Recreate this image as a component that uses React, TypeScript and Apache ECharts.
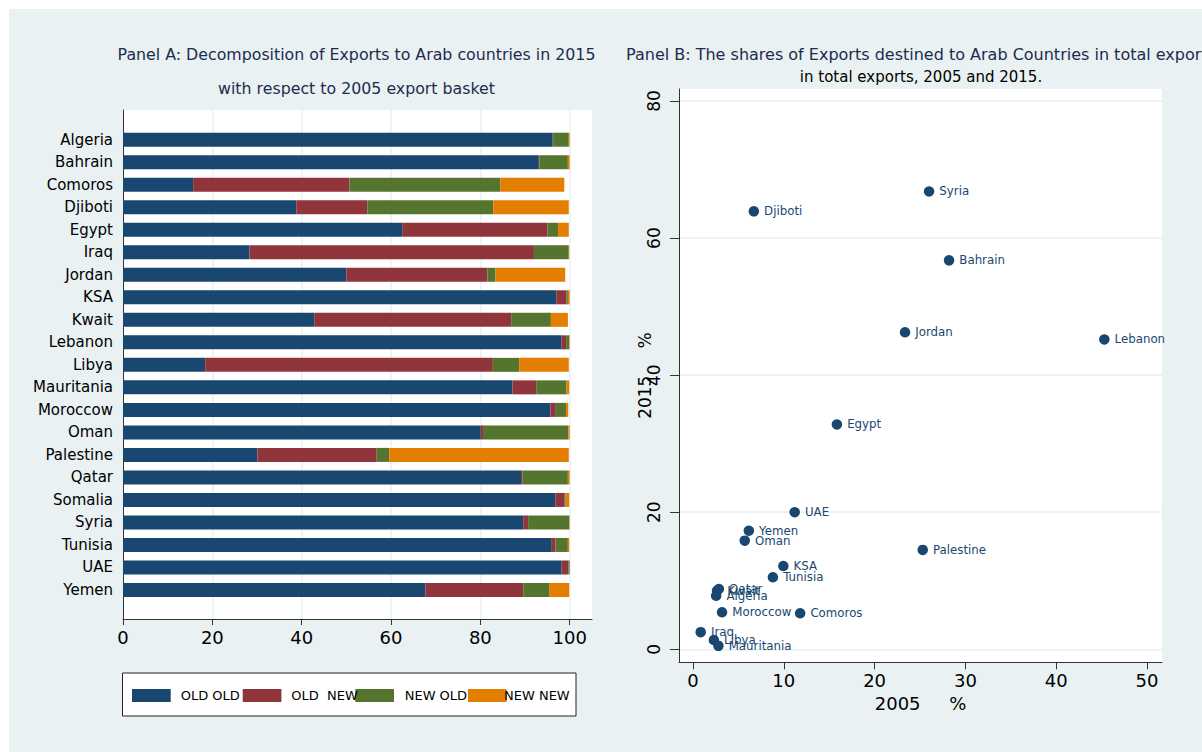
import React, { useEffect, useRef } from "react";
import * as echarts from "echarts";

// ---------- Panel A data ----------
const countries = [
  "Algeria", "Bahrain", "Comoros", "Djiboti", "Egypt", "Iraq", "Jordan", "KSA", "Kwait", "Lebanon",
  "Libya", "Mauritania", "Moroccow", "Oman", "Palestine", "Qatar", "Somalia", "Syria", "Tunisia", "UAE", "Yemen",
];
const oldOld = [96.2, 93.1, 15.7, 38.8, 62.5, 28.3, 50.0, 97.0, 42.8, 98.2, 18.4, 87.2, 95.7, 80.1, 30.1, 89.1, 96.8, 89.6, 96.0, 98.2, 67.7];
const oldNew = [0.1, 0.1, 35.0, 15.9, 32.5, 63.7, 31.6, 2.3, 44.1, 1.0, 64.4, 5.3, 1.2, 0.5, 26.7, 0.3, 2.1, 1.1, 0.8, 1.5, 21.9];
const newOld = [3.5, 6.4, 33.8, 28.2, 2.4, 7.8, 1.8, 0.3, 8.9, 0.7, 5.9, 6.8, 2.3, 19.1, 2.8, 10.2, 0.2, 9.2, 2.8, 0.3, 5.8];
const newNew = [0.2, 0.4, 14.3, 16.9, 2.4, 0.1, 15.6, 0.4, 3.8, 0.1, 11.1, 0.6, 0.5, 0.3, 40.2, 0.4, 0.8, 0.1, 0.3, 0.0, 4.5];
const seriesNames = ["OLD OLD", "OLD  NEW", "NEW OLD", "NEW NEW"];
const ticksA = [0, 20, 40, 60, 80, 100];

// ---------- Panel B data ----------
const scatterCountries = [
  "Syria", "Djiboti", "Bahrain", "Jordan", "Lebanon", "Egypt", "UAE", "Yemen", "Oman", "Palestine",
  "KSA", "Tunisia", "Qatar", "Kwait", "Algeria", "Moroccow", "Comoros", "Iraq", "Libya", "Mauritania",
];
const share2005 = [26.0, 6.7, 28.2, 23.35, 45.3, 15.85, 11.2, 6.15, 5.7, 25.3, 9.95, 8.8, 2.85, 2.65, 2.55, 3.2, 11.8, 0.85, 2.3, 2.8];
const share2015 = [66.8, 63.9, 56.75, 46.25, 45.2, 32.8, 20.0, 17.3, 15.85, 14.5, 12.15, 10.5, 8.8, 8.55, 7.8, 5.4, 5.25, 2.5, 1.35, 0.5];
const ticksBx = [0, 10, 20, 30, 40, 50];
const ticksBy = [0, 20, 40, 60, 80];

// ---------- styles ----------
const FONT = "'DejaVu Sans', 'Liberation Sans', sans-serif";
const BG = "#e9f1f3";
const TITLE = "#1c2c4c";
const NAVY = "#1a476f";
const COLORS = ["#1a476f", "#90353b", "#55752f", "#e37e00"];
const AXIS = "#333333";
const legendSwatchX = [132, 242.7, 355.3, 468];
const legendLabelX = [180.7, 291.3, 404.7, 504];

export default function App() {
  const ref = useRef<HTMLDivElement>(null);

  useEffect(() => {
    const chart = echarts.init(ref.current!, null, { renderer: "svg" });
    const barValues = [oldOld, oldNew, newOld, newNew];

    const legendGraphics: any[] = [
      {
        type: "rect",
        shape: { x: 122.5, y: 673, width: 453.5, height: 43 },
        style: { fill: "#fff", stroke: "#222", lineWidth: 1 },
        z: 10,
      },
    ];
    seriesNames.forEach((n, i) => {
      legendGraphics.push({
        type: "rect",
        shape: { x: legendSwatchX[i], y: 689, width: 38.7, height: 13 },
        style: { fill: COLORS[i] },
        z: 11,
      });
      legendGraphics.push({
        type: "text",
        x: legendLabelX[i],
        y: 695.5,
        style: { text: n, fontSize: 13, fontFamily: FONT, fill: "#000", align: "left", verticalAlign: "middle" },
        z: 12,
      });
    });

    const option: any = {
      animation: false,
      textStyle: { fontFamily: FONT },
      graphic: [
        { type: "rect", shape: { x: 9, y: 9, width: 1193, height: 743 }, style: { fill: BG }, z: -100 },
        {
          type: "text", x: 356.5, y: 54,
          style: { text: "Panel A: Decomposition of Exports to Arab countries in 2015", fontSize: 15.8, fontFamily: FONT, fill: TITLE, align: "center", verticalAlign: "middle" },
        },
        {
          type: "text", x: 356.5, y: 88,
          style: { text: "with respect to 2005 export basket", fontSize: 15.8, fontFamily: FONT, fill: TITLE, align: "center", verticalAlign: "middle" },
        },
        {
          type: "text", x: 626, y: 54,
          style: { text: "Panel B: The shares of Exports destined to Arab Countries in total exports", fontSize: 16, fontFamily: FONT, fill: TITLE, align: "left", verticalAlign: "middle" },
        },
        {
          type: "text", x: 921, y: 77,
          style: { text: "in total exports, 2005 and 2015.", fontSize: 15, fontFamily: FONT, fill: "#000", align: "center", verticalAlign: "middle" },
        },
        ...legendGraphics,
      ],
      grid: [
        { left: 123, top: 110, width: 469, height: 509, show: true, backgroundColor: "#fff", borderWidth: 0 },
        { left: 123, top: 128.45, width: 469, height: 472.8, show: false },
        { left: 679, top: 89, width: 483, height: 573.3, show: true, backgroundColor: "#fff", borderWidth: 0 },
      ],
      xAxis: [
        {
          gridIndex: 0, type: "value", min: 0, max: 105,
          axisLine: { show: true, onZero: false, lineStyle: { color: AXIS, width: 1 } },
          axisTick: { show: true, length: 6, customValues: ticksA, lineStyle: { color: AXIS } },
          axisLabel: { customValues: ticksA, fontSize: 18, color: "#000", margin: 9, fontFamily: FONT },
          splitLine: { show: true, lineStyle: { color: BG, width: 1.5 } },
        },
        { gridIndex: 1, type: "value", min: 0, max: 105, show: false },
        {
          gridIndex: 2, type: "value", min: -1.54, max: 51.65,
          axisLine: { show: true, onZero: false, lineStyle: { color: AXIS, width: 1 } },
          axisTick: { show: true, length: 7, customValues: ticksBx, lineStyle: { color: AXIS } },
          axisLabel: { customValues: ticksBx, fontSize: 18, color: "#000", margin: 9, fontFamily: FONT },
          splitLine: { show: false },
          name: "2005     %", nameLocation: "middle", nameGap: 30,
          nameTextStyle: { fontSize: 18, color: "#000", fontFamily: FONT },
        },
      ],
      yAxis: [
        {
          gridIndex: 0, type: "value", min: 0, max: 1,
          axisLine: { show: true, onZero: false, lineStyle: { color: AXIS, width: 1 } },
          axisTick: { show: false }, axisLabel: { show: false }, splitLine: { show: false },
        },
        {
          gridIndex: 1, type: "category", data: countries, inverse: true,
          axisLine: { show: false }, axisTick: { show: false },
          axisLabel: { fontSize: 15, color: "#000", margin: 10, fontFamily: FONT },
        },
        {
          gridIndex: 2, type: "value", min: -1.9, max: 81.75,
          axisLine: { show: true, onZero: false, lineStyle: { color: AXIS, width: 1 } },
          axisTick: { show: true, length: 9, customValues: ticksBy, lineStyle: { color: AXIS } },
          axisLabel: { customValues: ticksBy, rotate: 90, fontSize: 17, color: "#000", margin: 17, fontFamily: FONT },
          splitLine: { show: true, lineStyle: { color: BG, width: 1.5 } },
          name: "2015     %", nameLocation: "middle", nameGap: 26, nameMoveOverlap: false,
          nameTextStyle: { fontSize: 17, color: "#000", fontFamily: FONT },
        },
      ],
      series: [
        ...seriesNames.map((n, i) => ({
          type: "bar",
          name: n,
          xAxisIndex: 1,
          yAxisIndex: 1,
          stack: "total",
          barWidth: 14,
          data: barValues[i],
          itemStyle: { color: COLORS[i] },
        })),
        {
          type: "scatter",
          name: "shares",
          xAxisIndex: 2,
          yAxisIndex: 2,
          symbolSize: 10.5,
          itemStyle: { color: NAVY, opacity: 1 },
          data: scatterCountries.map((c, i) => ({ name: c, value: [share2005[i], share2015[i]] })),
          label: {
            show: true, position: "right", distance: 5, formatter: "{b}",
            fontSize: 11.8, color: NAVY, fontFamily: FONT,
          },
        },
      ],
    };
    chart.setOption(option);
    return () => chart.dispose();
  }, []);

  return (
    <div
      ref={ref}
      style={{ position: "absolute", left: 0, top: 0, width: 1202, height: 752, background: "#fff" }}
    />
  );
}
